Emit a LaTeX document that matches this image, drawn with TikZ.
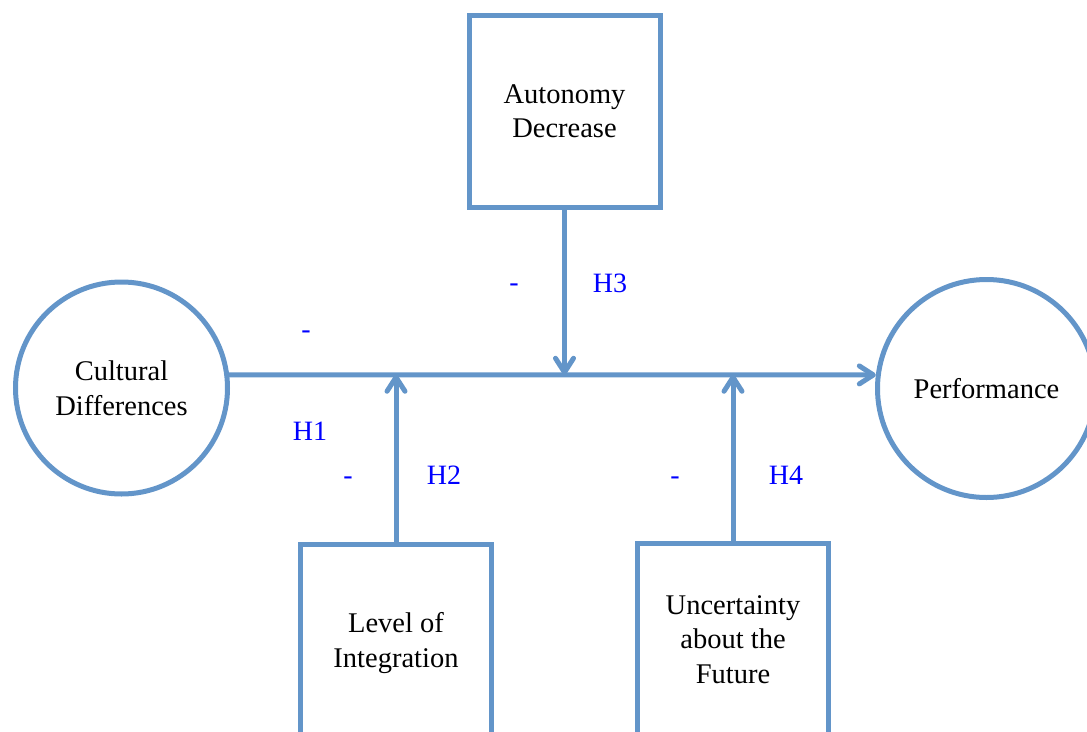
\documentclass[tikz,border=0pt]{standalone}
\usepackage{fontspec}
\setmainfont{Liberation Serif}
\usetikzlibrary{arrows.meta}
\definecolor{lineblue}{RGB}{99,149,201}
\definecolor{labblue}{RGB}{0,0,255}
\begin{document}
\begin{tikzpicture}[x=1pt,y=-1pt,
  conn/.style={draw=lineblue, line width=5pt, -{Straight Barb[length=14pt,width=18pt,round]}},
  boxnode/.style={draw=lineblue, line width=5pt, rectangle, minimum width=191pt, minimum height=192pt, align=center, font=\fontsize{28.5}{34.5}\selectfont, text depth=0pt, inner sep=0pt},
  circnode/.style={draw=lineblue, line width=5pt, circle, align=center, font=\fontsize{28.5}{34.5}\selectfont, text depth=0pt, inner sep=0pt},
  lab/.style={text=labblue, font=\fontsize{28}{34}\selectfont, anchor=base, inner sep=0pt}]
\useasboundingbox (0,0) rectangle (1087,731);
% nodes
\node[circnode, minimum size=212pt] (cd) at (121.5,388) {Cultural\\Differences};
\node[circnode, minimum size=218pt] (perf) at (986.5,388.5) {Performance};
\node[boxnode] (ad) at (564.5,111.25) {Autonomy\\Decrease};
\node[boxnode] (li) at (396,640) {Level of\\Integration};
\node[boxnode] (uf) at (733,639.5) {Uncertainty\\about the\\Future};
% connectors
\draw[conn] (cd.7) -- (perf.173);
\draw[conn] (ad.south) -- (ad.south |- cd.7);
\draw[conn] (li.north) -- (li.north |- cd.7);
\draw[conn] (uf.north) -- (uf.north |- cd.7);
% labels
\node[lab] (m1) at (306,338) {-};
\node[lab] (h1) at (310,440.5) {H1};
\node[lab] (m2) at (348,484) {-};
\node[lab] (h2) at (444,484.5) {H2};
\node[lab] (m3) at (514,291) {-};
\node[lab] (h3) at (610,292.5) {H3};
\node[lab] (m4) at (675,484) {-};
\node[lab] (h4) at (786,484.5) {H4};
\end{tikzpicture}
\end{document}
